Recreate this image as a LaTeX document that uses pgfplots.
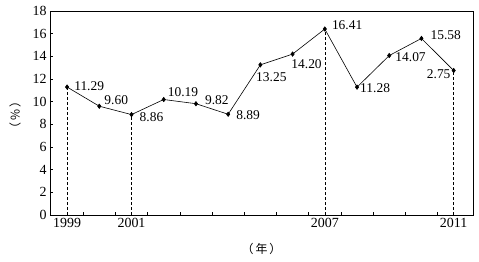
\documentclass[border=0pt]{standalone}
\usepackage{pgfplots}
\pgfplotsset{compat=1.18}
\usepackage{fontspec}
\setmainfont{Liberation Serif}
\newfontfamily\cjk{Noto Sans CJK SC}
\begin{document}
\begin{tikzpicture}
\begin{axis}[
  scale only axis, width=423bp, height=204bp,
  xmin=1998.47, xmax=2011.6, ymin=0, ymax=18,
  ytick={0,2,4,6,8,10,12,14,16,18},
  xtick={1999.5,2000.5,2001.5,2002.5,2003.5,2004.5,2005.5,2006.5,2007.5,2008.5,2009.5,2010.5},
  xticklabels={},
  extra x ticks={1999,2001,2007,2011},
  extra x tick labels={1999,2001,2007,2011},
  extra x tick style={major tick length=0pt},
  tick align=inside, major tick length=3.5bp,
  ytick pos=left, xtick pos=bottom,
  /pgf/number format/assume math mode=true,
  ticklabel style={font=\fontsize{14}{16}\selectfont},
  axis line style={line width=0.6bp},
  every tick/.style={line width=0.6bp, black},
  ylabel={\cjk\fontsize{12}{14}\selectfont （\hspace{2bp}\%\hspace{2bp}）},
  ylabel style={at={(-35bp,0.49)}, anchor=center},
  xlabel={\cjk\fontsize{12}{14}\selectfont （\hspace{2bp}年\hspace{2bp}）},
  xlabel style={at={(0.5,-34bp)}, anchor=center},
  clip=false,
]
\addplot[black, line width=0.5bp, dash pattern=on 3bp off 2bp] coordinates {(1999,0)(1999,11.29)};
\addplot[black, line width=0.5bp, dash pattern=on 3bp off 2bp] coordinates {(2001,0)(2001,8.86)};
\addplot[black, line width=0.5bp, dash pattern=on 3bp off 2bp] coordinates {(2007,0)(2007,16.41)};
\addplot[black, line width=0.5bp, dash pattern=on 3bp off 2bp] coordinates {(2011,0)(2011,12.75)};
\addplot[black, line width=0.6bp, mark=diamond*, mark size=2.2bp, mark options={solid, fill=black}] coordinates {
(1999,11.29)(2000,9.60)(2001,8.86)(2002,10.19)(2003,9.82)(2004,8.89)(2005,13.25)(2006,14.20)(2007,16.41)(2008,11.28)(2009,14.07)(2010,15.58)(2011,12.75)};
\begin{scope}[every node/.style={font=\fontsize{13.5}{16}\selectfont, inner sep=0pt}]
\node[anchor=west] at ([shift={(7bp,1bp)}]axis cs:1999,11.29) {11.29};
\node[anchor=west] at ([shift={(5bp,6bp)}]axis cs:2000,9.60) {9.60};
\node[anchor=west] at ([shift={(8bp,-3bp)}]axis cs:2001,8.86) {8.86};
\node[anchor=west] at ([shift={(4bp,7bp)}]axis cs:2002,10.19) {10.19};
\node[anchor=west] at ([shift={(9bp,4bp)}]axis cs:2003,9.82) {9.82};
\node[anchor=west] at ([shift={(8bp,-1bp)}]axis cs:2004,8.89) {8.89};
\node[anchor=center] at ([shift={(11bp,-12bp)}]axis cs:2005,13.25) {13.25};
\node[anchor=center] at ([shift={(14bp,-10bp)}]axis cs:2006,14.20) {14.20};
\node[anchor=west] at ([shift={(7bp,4bp)}]axis cs:2007,16.41) {16.41};
\node[anchor=west] at ([shift={(3bp,-1bp)}]axis cs:2008,11.28) {11.28};
\node[anchor=west] at ([shift={(6bp,-2bp)}]axis cs:2009,14.07) {14.07};
\node[anchor=west] at ([shift={(9bp,3bp)}]axis cs:2010,15.58) {15.58};
\node[anchor=east] at ([shift={(-3bp,-4bp)}]axis cs:2011,12.75) {2.75};
\end{scope}
\end{axis}
\path ([shift={(-50bp,-47bp)}]current axis.south west) rectangle ([shift={(6bp,11bp)}]current axis.north east);
\end{tikzpicture}
\end{document}
